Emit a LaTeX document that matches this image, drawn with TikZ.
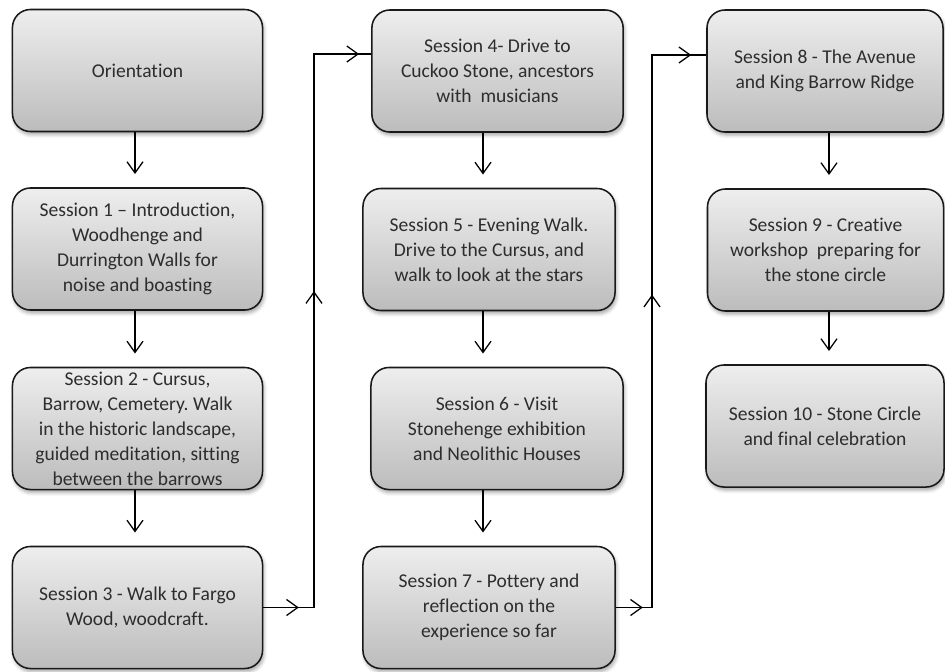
\documentclass[tikz,border=0pt]{standalone}
\usepackage{fontspec}
\setmainfont{Carlito}[Ligatures={TeX,NoCommon}]
\usepackage{xcolor}
\usepackage{tikz}
\usetikzlibrary{arrows.meta, positioning, calc, shadows.blur, decorations.markings}
\frenchspacing
\definecolor{boxtop}{RGB}{238,238,238}
\definecolor{boxbot}{RGB}{188,188,188}
\definecolor{boxline}{RGB}{25,25,25}
\definecolor{textdark}{RGB}{45,45,45}
\tikzset{
  barb/.tip={Straight Barb[length=2.8mm, width=4mm]},
  session/.style={rectangle, draw=boxline, top color=boxtop, bottom color=boxbot,
    rounded corners=0.45cm, line width=1.1pt, align=center, text=textdark,
    font=\fontsize{13.9}{17.8}\selectfont, minimum height=3.05cm, inner sep=0pt,
    blur shadow={shadow xshift=1pt, shadow yshift=-2.2pt, shadow blur radius=2.5pt, shadow opacity=35}},
  flow/.style={-barb, line width=0.9pt, color=black, shorten >=0.33cm},
  jump/.style n args={3}{line width=0.9pt, color=black, postaction={decorate},
    decoration={markings,
      mark=at position #1 with {\arrow{barb}},
      mark=at position #2 with {\arrow{barb}},
      mark=at position #3 with {\arrow{barb}}}}
}

\begin{document}
\begin{tikzpicture}[x=0.025cm, y=-0.025cm]
  \useasboundingbox (0,0) rectangle (945,671);

  % First column
  \node[session, minimum width=6.25cm] (orient) at (137.5,70.5) {Orientation};
  \node[session, minimum width=6.25cm] (s1) at (137.5,249) {Session 1 -- Introduction,\\Woodhenge and\\Durrington Walls for\\noise and boasting};
  \node[session, minimum width=6.25cm] (s2) at (137.5,428.5) {Session 2 - Cursus,\\Barrow, Cemetery. Walk\\in the historic landscape,\\guided meditation, sitting\\between the barrows};
  \node[session, minimum width=6.25cm] (s3) at (137.5,607.5) {Session 3 - Walk to Fargo\\Wood, woodcraft.};

  % Second column
  \node[session, minimum width=6.28cm] (s4) at (497.5,71) {Session 4- Drive to\\Cuckoo Stone, ancestors\\with\ \ musicians};
  \node[session, minimum width=6.3cm] (s5) at (489,249.5) {Session 5 - Evening Walk.\\Drive to the Cursus, and\\walk to look at the stars};
  \node[session, minimum width=6.3cm] (s6) at (497,428.5) {Session 6 - Visit\\Stonehenge exhibition\\and Neolithic Houses};
  \node[session, minimum width=6.3cm] (s7) at (489,607.5) {Session 7 - Pottery and\\reflection on the\\experience so far};

  % Third column
  \node[session, minimum width=5.9cm] (s8) at (825,71) {Session 8 - The Avenue\\and King Barrow Ridge};
  \node[session, minimum width=5.9cm] (s9) at (825.5,250) {Session 9 - Creative\\workshop\ \ preparing for\\the stone circle};
  \node[session, minimum width=5.95cm] (s10) at (825,426) {Session 10 - Stone Circle\\and final celebration};

  % Arrow lines
  \coordinate (mid1) at (135,0);
  \coordinate (mid2) at (483,0);
  \coordinate (mid3) at (829,0);
  \foreach \a/\b/\c in {orient/s1/mid1, s1/s2/mid1, s2/s3/mid1,
                        s4/s5/mid2, s5/s6/mid2, s6/s7/mid2,
                        s8/s9/mid3, s9/s10/mid3}
    \draw[flow] (\a.south -| \c) -- (\b.north -| \c);

  % Jumps to the next column
  \coordinate (up1) at (314,54);
  \coordinate (up2) at (652,55);
  \draw[jump={0.8875cm}{9.175cm}{-0.3cm}] (s3.east) -| (up1) -- (up1 -| s4.west);
  \draw[jump={0.675cm}{8.725cm}{-0.375cm}] (s7.east) -| (up2) -- (up2 -| s8.west);
\end{tikzpicture}
\end{document}
